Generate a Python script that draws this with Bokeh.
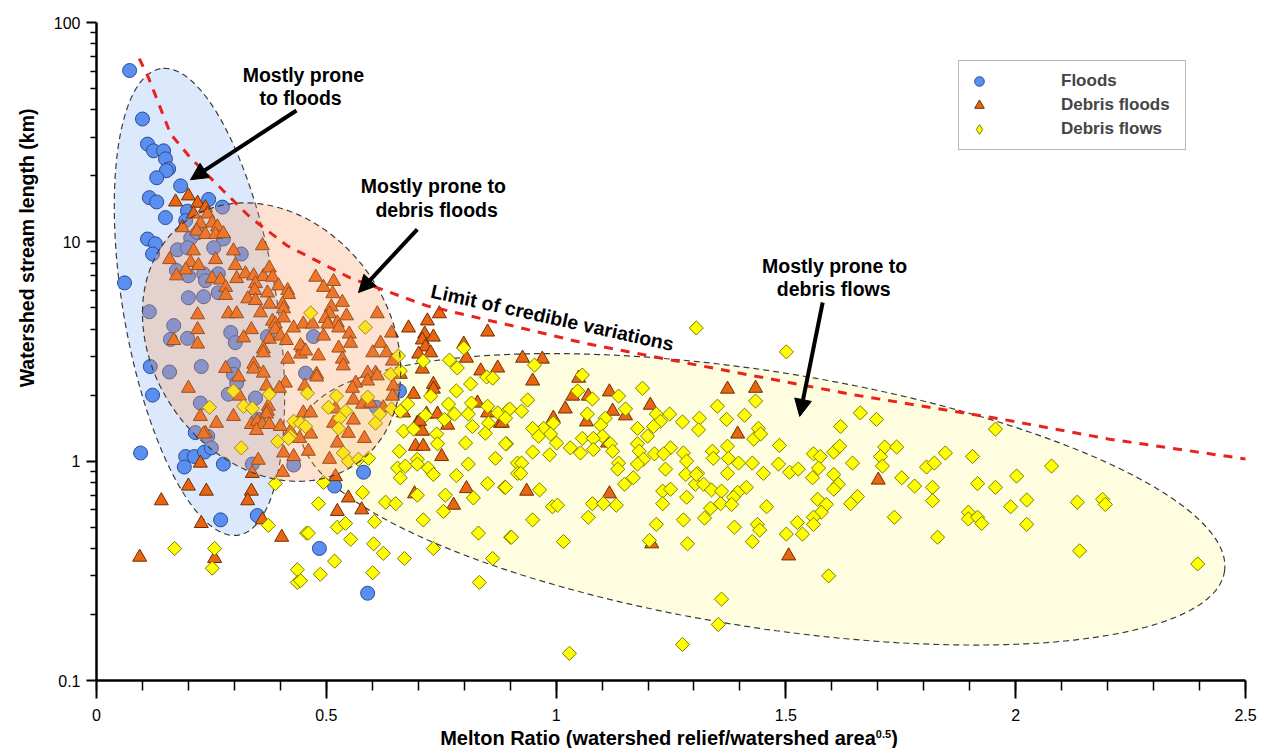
import numpy as np
from bokeh.plotting import figure
from bokeh.layouts import column
from bokeh.models import (FixedTicker, NumeralTickFormatter, Label, Arrow, NormalHead,
                          Legend, LegendItem, Title, Div)
from bokeh.embed import file_html
from bokeh.resources import INLINE

FONT = "Liberation Sans"

# ---------------- data (Melton ratio, stream length km) ----------------
floods_xy = [
(0.072,60.4),(0.100,36.3),(0.111,27.9),(0.124,26.0),(0.146,26.0),(0.150,23.9),(0.157,21.5),(0.152,21.1),(0.131,19.6),(0.183,18.0),
(0.115,15.9),(0.131,15.2),(0.244,15.6),(0.150,12.9),(0.198,13.8),(0.274,14.4),(0.194,12.5),(0.111,10.3),(0.128,9.8),(0.205,10.4),
(0.220,11.0),(0.276,10.3),(0.122,8.8),(0.176,9.2),(0.198,9.4),(0.255,9.4),(0.315,8.8),(0.061,6.5),(0.174,7.4),(0.200,7.0),
(0.233,7.15),(0.237,6.65),(0.265,7.15),(0.265,5.86),(0.200,5.56),(0.233,5.62),(0.115,4.8),(0.168,4.15),(0.161,3.59),(0.198,3.63),
(0.292,3.86),(0.302,3.47),(0.372,3.7),(0.117,2.70),(0.159,2.55),(0.228,2.70),(0.298,2.76),(0.298,2.49),(0.305,2.27),(0.287,2.02),
(0.346,1.94),(0.122,2.0),(0.226,1.84),(0.352,1.55),(0.215,1.35),(0.242,1.30),(0.455,2.52),(0.096,1.09),(0.194,1.05),(0.213,1.05),
(0.235,1.10),(0.250,1.15),(0.191,0.94),(0.276,0.97),(0.339,0.97),(0.429,0.96),(0.270,0.54),(0.350,0.565),(0.581,0.89),(0.518,0.77),
(0.485,0.40),(0.590,0.25),(0.659,2.09),(0.609,1.76),(0.472,3.7)]

debris_floods_xy = [
(0.200,16.2),(0.172,15.2),(0.220,15.0),(0.237,14.3),(0.211,13.4),(0.242,13.4),(0.187,11.6),(0.226,12.1),(0.252,12.2),(0.263,11.7),
(0.218,11.2),(0.237,10.8),(0.259,10.8),(0.276,10.9),(0.361,9.6),
(0.211,9.1),(0.159,8.3),(0.205,8.05),(0.222,7.8),(0.194,7.45),(0.174,7.0),(0.259,8.3),(0.298,9.1),(0.302,7.8),
(0.252,6.8),(0.270,6.7),(0.305,6.8),(0.324,7.15),(0.342,7.0),(0.363,6.95),(0.376,7.6),(0.383,6.9),(0.346,6.45),(0.281,6.2),
(0.281,5.7),(0.344,6.0),(0.329,5.5),(0.346,5.4),(0.372,5.85),(0.396,6.3),(0.416,6.0),(0.418,5.75),(0.376,5.2),(0.405,5.2),
(0.407,4.95),(0.357,4.75),(0.287,4.7),(0.305,4.7),(0.220,4.65),(0.383,4.35),(0.389,4.22),(0.407,4.5),(0.429,4.05),(0.450,4.22),
(0.220,3.98),(0.337,3.98),(0.389,3.98),(0.168,3.55),(0.220,3.42),(0.320,3.65),(0.376,3.6),(0.400,3.72),(0.413,3.55),(0.363,3.25),
(0.363,3.12),(0.448,3.28),(0.444,3.08),(0.416,2.92),(0.281,2.65),(0.342,2.77),(0.342,2.63),(0.363,2.52),(0.309,2.42),(0.411,2.27),
(0.370,2.2),(0.398,2.15),(0.200,2.15),(0.311,1.98),(0.374,1.78),(0.372,1.69),(0.370,1.64),(0.226,1.60),(0.298,1.60),(0.261,1.49),
(0.337,1.47),(0.350,1.52),(0.361,1.47),(0.376,1.47),(0.237,1.34),(0.348,1.38),(0.400,1.44),(0.422,1.37),
(0.233,1.33),(0.352,1.01),(0.226,0.98),(0.339,0.88),(0.200,0.77),(0.239,0.73),(0.337,0.73),(0.329,0.66),(0.141,0.66),(0.228,0.52),
(0.361,0.54),(0.403,0.45),(0.094,0.365),(0.257,0.36),(0.407,1.09),(0.429,1.05),(0.442,1.27),(0.405,0.89),
(0.477,6.9),(0.516,6.6),(0.494,6.2),(0.514,5.8),(0.535,5.3),(0.511,5.05),(0.507,4.7),(0.544,4.6),(0.611,4.7),(0.498,4.47),
(0.524,4.27),(0.470,4.22),(0.503,4.22),(0.550,3.8),(0.494,3.72),(0.527,4.05),(0.553,3.45),(0.618,3.45),(0.642,3.84),(0.679,4.05),
(0.720,4.36),(0.746,4.7),(0.714,3.8),(0.733,3.68),(0.851,3.88),(0.709,3.57),(0.716,3.32),(0.799,3.42),(0.444,3.36),(0.455,3.18),
(0.483,3.02),(0.527,3.28),(0.601,3.12),(0.631,3.12),(0.535,2.92),(0.537,2.72),(0.701,3.08),(0.727,3.12),(0.805,2.95),(0.644,2.86),
(0.607,2.52),(0.590,2.52),(0.661,2.49),(0.873,2.66),(0.836,2.58),(0.479,2.49),(0.709,2.63),
(0.479,2.42),(0.453,2.2),(0.564,2.27),(0.557,2.15),(0.590,2.32),(0.611,2.45),(0.646,2.2),(0.690,2.02),(0.733,2.24),(0.733,2.13),
(0.450,1.66),(0.466,1.66),(0.520,1.73),(0.559,1.90),(0.579,1.82),(0.596,1.84),(0.559,1.54),(0.516,1.49),(0.548,1.34),(0.466,1.33),
(0.583,1.27),(0.524,1.21),(0.461,1.11),(0.507,1.02),(0.644,1.98),(0.624,1.75),(0.668,1.66),(0.698,1.49),(0.709,1.37),(0.694,1.17),
(0.711,1.17),(0.751,1.05),(0.718,1.64),(0.742,1.64),(0.764,1.46),(0.703,1.52),(0.829,1.84),(0.851,1.66),(0.879,1.49),
(0.520,0.85),(0.548,0.68),(0.524,0.59),(0.577,0.60),(0.692,0.71),(0.805,0.75),(0.777,0.63),
(0.927,2.95),(0.970,2.92),(0.949,2.32),(1.049,2.39),(1.036,1.98),(1.070,1.98),(1.116,2.07),(1.020,1.73),(1.123,1.69),(1.151,1.61),
(1.066,1.51),(1.205,1.80),(0.883,1.49),(0.994,1.57),(1.373,2.13),(1.434,2.15),(1.395,1.33),(1.112,1.21),
(0.936,0.73),(1.116,0.71),(1.208,0.42),(1.701,0.82),(1.506,0.37)]

debris_flows_xy = [
(0.298,2.09),(0.376,2.02),(0.246,1.76),(0.320,1.78),(0.339,1.74),(0.466,4.74),(0.429,1.52),(0.444,1.49),(0.422,1.30),
(0.315,1.15),(0.394,1.23),(0.418,1.27),(0.389,0.79),(0.374,0.51),(0.457,0.47),(0.170,0.40),(0.257,0.40),(0.252,0.325),(0.437,0.32),(0.437,0.28),
(0.585,4.08),(0.657,3.02),(0.799,3.28),(0.768,2.89),(0.785,2.66),(0.711,2.86),(0.640,2.49),(0.661,2.58),(0.849,2.42),
(0.459,2.04),(0.522,1.98),(0.590,1.96),(0.505,1.76),(0.542,1.69),(0.616,1.64),(0.642,1.73),(0.529,1.57),(0.607,1.49),(0.455,1.44),
(0.527,1.41),(0.537,1.09),(0.548,1.0),(0.570,1.02),(0.592,1.03),(0.494,0.80),(0.579,0.72),(0.483,0.64),(0.629,0.65),(0.651,0.64),
(0.461,0.47),(0.524,0.50),(0.542,0.52),(0.553,0.44),(0.605,0.53),(0.603,0.42),(0.624,0.38),(0.670,0.36),(0.487,0.305),(0.601,0.31),
(0.518,0.35),(0.444,0.285),(0.659,1.11),(0.655,0.93),(0.672,0.95),(0.661,0.84),(0.698,1.02),(0.698,0.97),(0.722,0.93),(0.733,0.87),
(0.698,0.70),(0.711,0.54),(0.759,0.70),(0.755,0.59),(0.733,0.40),(0.668,1.37),(0.690,1.40),(0.661,1.69),(0.677,1.82),(0.716,1.62),
(0.727,1.98),(0.740,1.33),(0.742,1.20),(0.757,1.55),(0.766,1.82),(0.779,1.64),(0.783,2.09),(0.814,2.25),(0.816,1.84),(0.809,1.64),
(0.818,1.44),(0.803,1.21),(0.809,0.97),(0.783,0.86),(0.820,0.68),(0.831,0.47),(0.862,0.36),(0.833,0.28),(0.851,1.78),(0.853,1.49),
(0.846,1.34),(0.862,2.39),(0.873,1.66),(0.896,1.71),(0.892,1.20),(0.868,1.03),(0.851,0.79),(0.888,0.76),(0.916,0.98),(0.916,0.88),(0.901,0.45),
(1.305,4.05),(0.953,2.74),(1.057,2.47),(1.188,2.15),(1.047,2.09),(1.136,1.98),(1.079,1.92),(0.938,1.90),(0.899,1.73),(0.925,1.69),
(1.151,1.73),(1.068,1.64),(1.247,1.64),(1.218,1.64),(1.107,1.57),(1.351,1.78),(1.410,1.62),(1.312,1.57),(1.371,1.55),(1.434,1.88),
(1.275,1.51),(1.227,1.52),(1.097,1.46),(1.212,1.44),(1.177,1.41),(1.310,1.39),(0.994,1.49),(0.973,1.41),(0.949,1.41),(0.890,1.57),
(1.440,1.41),(1.199,1.30),(1.101,1.30),(1.057,1.27),(0.988,1.33),(0.962,1.30),(0.890,1.20),(1.001,1.21),(1.081,1.27),(1.177,1.20),
(1.118,1.20),(1.249,1.15),(1.373,1.17),(1.430,1.26),(0.949,1.10),(0.986,1.07),(1.031,1.15),(1.053,1.09),(1.081,1.13),(1.123,1.11),
(1.181,1.11),(1.214,1.08),(1.234,1.08),(1.277,1.09),(1.340,1.11),(1.375,1.03),(1.397,0.98),(1.427,0.98),(0.925,0.98),(1.136,0.98),
(1.190,1.02),(1.284,1.0),(1.342,1.03),(0.923,0.88),(1.134,0.92),(1.177,0.97),(1.238,0.92),(1.308,0.88),(1.373,0.88),
(0.890,0.76),(0.964,0.74),(0.992,0.62),(1.003,0.63),(0.949,0.54),(0.903,0.45),(1.016,0.43),(1.079,0.64),(1.103,0.64),(1.131,0.63),
(1.070,0.555),(1.149,0.785),(1.168,0.84),(1.232,0.73),(1.249,0.745),(1.232,0.64),(1.284,0.685),(1.218,0.515),(1.277,0.54),(1.203,0.435),
(1.286,0.42),(1.303,0.785),(1.321,0.785),(1.338,0.74),(1.360,0.73),(1.282,0.87),(1.305,0.87),(1.414,0.76),(1.395,0.72),(1.386,0.685),
(1.358,0.64),(1.382,0.635),(1.336,0.61),(1.323,0.55),(1.388,0.50),(1.427,0.43),(1.438,0.515),(1.360,0.235),(1.353,0.18),(1.275,0.146),(1.029,0.133),
(1.501,3.15),(1.445,1.33),(1.486,1.18),(1.662,1.66),(1.697,1.55),(1.619,1.44),(1.956,1.40),(1.560,1.08),(1.575,1.05),
(1.604,1.10),(1.617,1.17),(1.715,1.16),(1.741,1.16),(1.706,1.05),(1.710,0.95),(1.645,0.98),(1.847,1.09),(1.906,1.05),(1.806,0.94),
(1.823,0.98),(1.484,0.97),(1.451,0.88),(1.508,0.89),(1.527,0.92),(1.571,0.93),
(1.558,0.84),(1.604,0.87),(1.614,0.785),(1.752,0.84),(1.780,0.77),(1.819,0.76),(1.917,0.79),(1.956,0.76),(1.656,0.69),(1.604,0.745),(1.569,0.67),
(1.641,0.64),(1.588,0.635),(1.577,0.585),(1.458,0.62),(1.560,0.555),(1.560,0.515),(1.525,0.525),(1.443,0.485),(1.501,0.465),(1.536,0.465),
(1.593,0.30),(1.736,0.555),(1.819,0.66),(1.897,0.585),(1.897,0.545),(1.917,0.555),(1.926,0.52),(1.830,0.45),(1.989,0.62),
(2.078,0.95),(2.002,0.855),(2.024,0.665),(2.024,0.515),(2.134,0.65),(2.189,0.67),(2.195,0.635),(2.139,0.39),(2.396,0.34)]

# limit of credible variations
limit_x = [0.093, 0.113, 0.161, 0.204, 0.276, 0.335, 0.415, 0.552, 0.720, 0.907, 1.059, 1.285, 1.640, 1.965, 2.204, 2.504]
limit_y = [68.5, 56.1, 31.1, 24.2, 17.1, 12.9, 9.6, 6.85, 5.1, 4.13, 3.46, 2.8, 2.02, 1.56, 1.26, 1.02]

x_major = [0, 0.5, 1, 1.5, 2, 2.5]
y_major = [0.1, 1, 10, 100]
series_labels = ["Floods", "Debris floods", "Debris flows"]

floods_x, floods_y = map(list, zip(*floods_xy))
dfl_x, dfl_y = map(list, zip(*debris_floods_xy))
dfw_x, dfw_y = map(list, zip(*debris_flows_xy))

# ---------------- figure ----------------
p = figure(width=1262, height=728, x_range=(0, 2.5), y_range=(0.1, 100), y_axis_type="log",
           output_backend="svg", toolbar_location=None,
           min_border_left=96, min_border_right=17, min_border_top=22, min_border_bottom=48)
p.outline_line_color = None
p.grid.visible = False
p.background_fill_color = "white"

p.xaxis.ticker = FixedTicker(ticks=x_major, minor_ticks=[round(0.1 * i, 1) for i in range(26)])
p.xaxis.formatter = NumeralTickFormatter(format="0.[0]")
y_minor = [m * 10.0 ** k for k in (-1, 0, 1) for m in range(2, 10)]
p.yaxis.ticker = FixedTicker(ticks=y_major, minor_ticks=y_minor)
p.yaxis.formatter = NumeralTickFormatter(format="0.[0]")

for ax in (p.xaxis[0], p.yaxis[0]):
    ax.axis_line_width = 2.5
    ax.axis_line_color = "black"
    ax.major_tick_line_color = "black"
    ax.minor_tick_line_color = "black"
    ax.major_tick_line_width = 2
    ax.minor_tick_line_width = 1.5
    ax.major_tick_in = 0
    ax.minor_tick_in = 0
    ax.major_label_text_font = FONT
    ax.major_label_text_font_size = "16px"
    ax.major_label_text_color = "black"
p.xaxis.major_tick_out = 18
p.xaxis.minor_tick_out = 10
p.xaxis.major_label_standoff = 10
p.yaxis.major_tick_out = 10
p.yaxis.minor_tick_out = 6
p.yaxis.major_label_standoff = 6

# y-axis title (placed toward the top like the original)
p.add_layout(Title(text="Watershed stream length (km)", align="right", offset=86, standoff=25,
                   text_font=FONT, text_font_style="bold", text_font_size="19.5px",
                   text_color="black"), "left")

# ---------------- ellipses (shapes in screen-proportional log space) ----------------
K = (1149 / 2.5) / (658 / 3.0)   # px per x-unit / px per decade


def ellipse(cx, cy, a, b, ang_deg, n=240):
    t = np.linspace(0, 2 * np.pi, n)
    th = np.radians(ang_deg)
    X = a * np.cos(t) * np.cos(th) - b * np.sin(t) * np.sin(th)
    Y = a * np.cos(t) * np.sin(th) + b * np.sin(t) * np.cos(th)
    return cx + X / K, cy * 10 ** Y


bx, by = ellipse(0.224, 5.32, 1.078, 0.35, 99.5)
yx, yy = ellipse(1.450, 0.67, 2.13, 0.584, -8.9)
ox, oy = ellipse(0.381, 3.49, 0.676, 0.541, -55)

EDGE = dict(line_color="#3c3c3c", line_width=1.2, line_dash="6 4")
p.patch(bx, by, fill_color="#dce8fb", fill_alpha=1.0, **EDGE)
p.patch(yx, yy, fill_color="#fffde0", fill_alpha=1.0, **EDGE)

# ---------------- points ----------------
F_STYLE = dict(fill_color="#5a8ef0", line_color="#2c4f8f", line_width=1)
T_STYLE = dict(fill_color="#ea6512", line_color="#6e2e00", line_width=1)
D_STYLE = dict(fill_color="#ffff00", line_color="#7a7a00", line_width=1)
r_f = p.scatter(floods_x, floods_y, marker="circle", size=14, **F_STYLE)
r_df = p.scatter(dfl_x, dfl_y, marker="triangle", size=14, **T_STYLE)
r_dw = p.scatter(dfw_x, dfw_y, marker="square", size=10, angle=np.pi / 4, **D_STYLE)
# legend-only swatch (not drawn in the plot) so the key shows a diamond
r_dw_key = p.scatter([float("nan")], [float("nan")], marker="diamond", size=14, **D_STYLE)

# translucent debris-flood envelope on top of the points
p.patch(ox, oy, fill_color="#f89e69", fill_alpha=0.3, **EDGE)

# limit line
p.line(limit_x, limit_y, line_color="#e8231b", line_width=3, line_dash="9 8")

# ---------------- arrows ----------------
arrows = [((0.435, 39.7), (0.2045, 19.2)),
          ((0.698, 11.4), (0.570, 5.87)),
          ((1.580, 5.29), (1.530, 1.60))]
for (xs, ys), (xe, ye) in arrows:
    p.add_layout(Arrow(end=NormalHead(size=17, fill_color="black", line_color="black", line_width=1),
                       x_start=xs, y_start=ys, x_end=xe, y_end=ye,
                       line_color="black", line_width=4))

# ---------------- texts ----------------
TXT = dict(text_font=FONT, text_font_style="bold", text_font_size="19.5px", text_color="black",
           text_align="center", text_baseline="middle")
notes = [(0.450, 57.9, "Mostly prone"), (0.444, 45.5, "to floods"),
         (0.733, 17.9, "Mostly prone to"), (0.740, 14.0, "debris floods"),
         (1.606, 7.72, "Mostly prone to"), (1.604, 6.12, "debris flows")]
for x, y, t in notes:
    p.add_layout(Label(x=x, y=y, text=t, **TXT))
p.add_layout(Label(x=0.992, y=4.52, text="Limit of credible variations", angle=-0.218, **TXT))

# ---------------- legend ----------------
legend = Legend(items=[LegendItem(label=series_labels[0], renderers=[r_f]),
                       LegendItem(label=series_labels[1], renderers=[r_df]),
                       LegendItem(label=series_labels[2], renderers=[r_dw_key])],
                location=(862, 530), glyph_width=24, glyph_height=24, spacing=0, padding=8,
                label_standoff=70, label_width=116, label_height=24,
                label_text_font=FONT, label_text_font_style="bold", label_text_font_size="17px",
                label_text_baseline="middle",
                border_line_color="#707070", border_line_width=1,
                background_fill_color="white", background_fill_alpha=1.0)
p.add_layout(legend)

# x-axis title with superscript, as HTML text under the plot
xtitle = Div(text=('<div style="width:1262px;text-align:center;font-family:\'Liberation Sans\';'
                   'font-weight:bold;font-size:20px;line-height:20px;color:black;">'
                   '<span style="position:relative;left:38px;">Melton Ratio (watershed relief/watershed area'
                   '<span style="font-size:11px;position:relative;top:-7px;">0.5</span>)</span></div>'),
             width=1262, height=20, margin=0)

layout = column(p, xtitle, spacing=0)
open("out.html", "w").write(file_html(layout, INLINE))
